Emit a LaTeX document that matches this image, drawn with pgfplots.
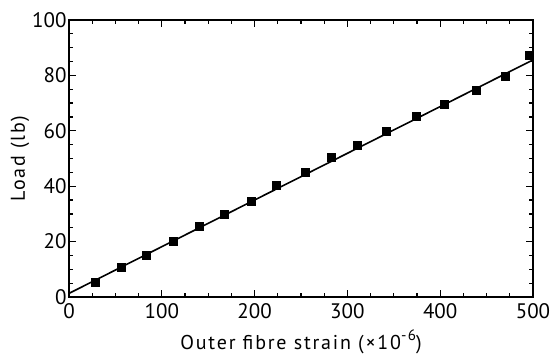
\documentclass[border=0pt]{standalone}
\usepackage{fontspec}
\setmainfont{PT Sans}
\newfontfamily\labfont[LetterSpace=9]{PT Sans}
\usepackage{pgfplots}
\pgfplotsset{compat=1.18}
\begin{document}
\begin{tikzpicture}
\begin{axis}[
  name=ax,
  scale only axis,
  width=464pt, height=277pt,
  xmin=0, xmax=500, ymin=0, ymax=100,
  xtick={0,100,...,500}, ytick={0,20,...,100},
  minor x tick num=3, minor y tick num=3,
  major tick length=7pt, minor tick length=4pt,
  axis line style={line width=1.8pt},
  every tick/.style={black, line width=1.3pt},
  tick label style={font=\fontsize{21}{22}\selectfont},
  x tick label style={yshift=-3pt},
  y tick label style={xshift=1pt},
  /pgf/number format/assume math mode=true,
  xlabel={\labfont\fontsize{20}{22}\selectfont Outer fibre strain (×10\raisebox{0.45em}{\fontsize{15}{15}\selectfont -6})},
  ylabel={\labfont\fontsize{20}{22}\selectfont Load (lb)},
  xlabel style={at={(axis description cs:0.5,-0.1733)}, anchor=center, yshift=3.5pt},
  ylabel style={at={(axis description cs:-0.1056,0.5)}, anchor=center},
]
\addplot[black, line width=1.6pt] coordinates {(0,1.3) (500,85.6)};
\addplot[only marks, mark=square*, mark size=4pt, black] coordinates {
(28,5.2) (56.7,10.6) (83.6,15.2) (112.3,20.2) (140.3,25.4) (166.9,30.0)
(195.8,34.7) (223.8,40.2) (254.3,45.0) (282.3,50.3) (310.7,54.9)
(341.3,59.7) (373.6,65.1) (404.1,69.7) (439.3,74.5) (469.8,79.8) (496,87.4)
};
\end{axis}
\pgfresetboundingbox
\path (ax.south west) +(-69pt,-59pt) (ax.north east) +(18pt,20pt);
\end{tikzpicture}
\end{document}
